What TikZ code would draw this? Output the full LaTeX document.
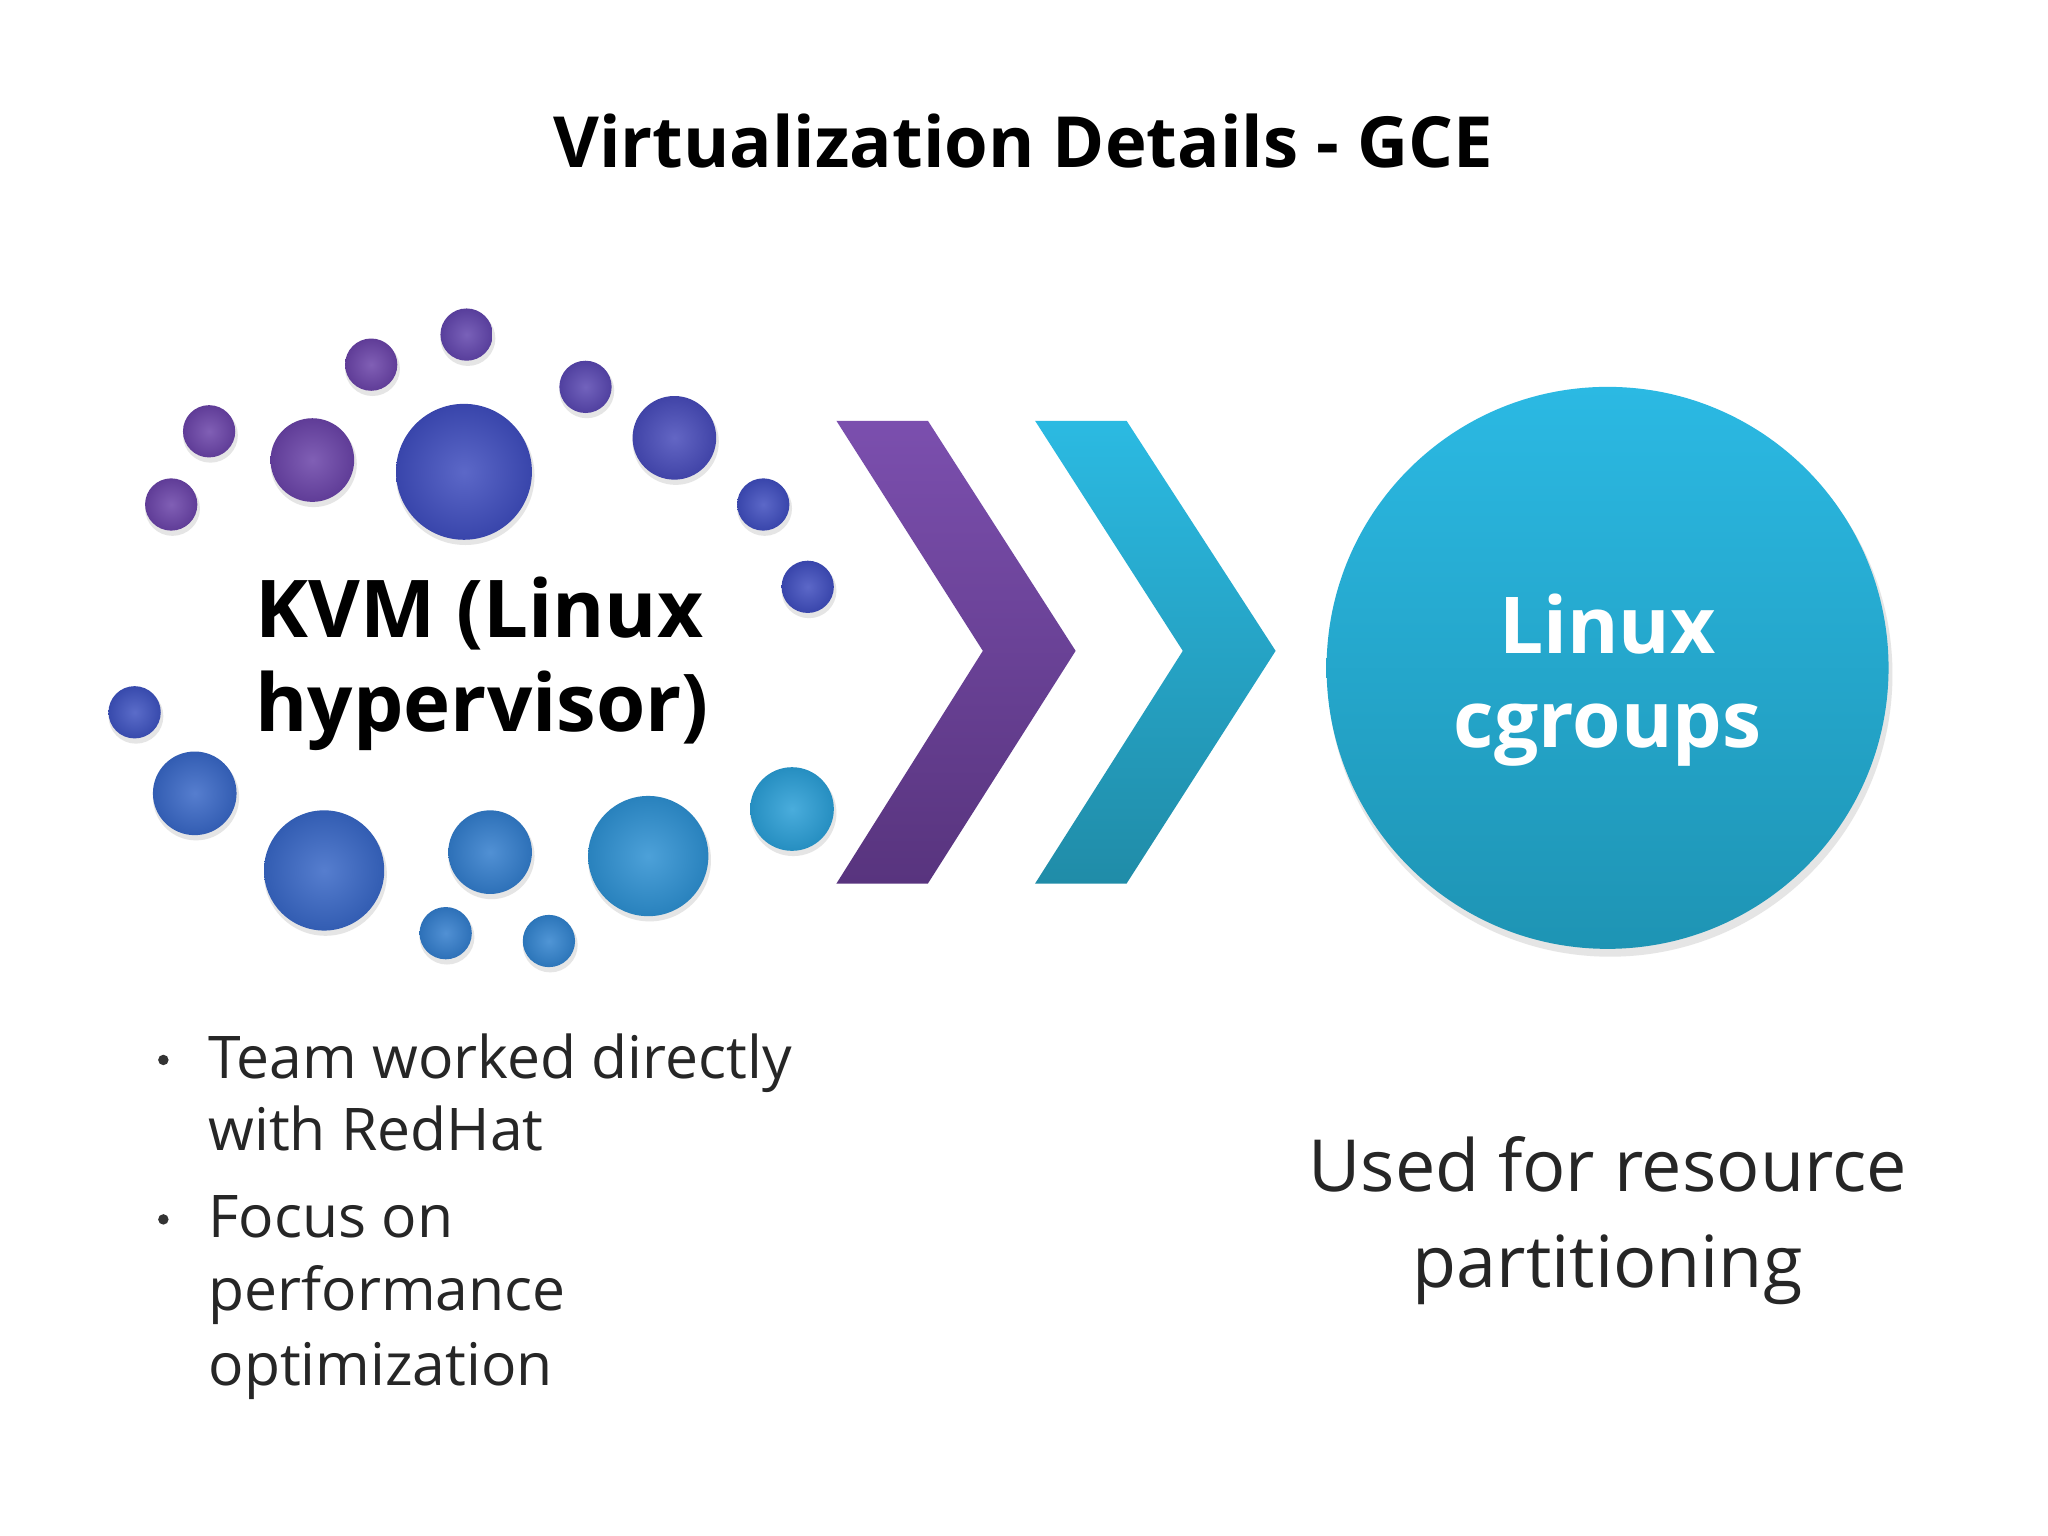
\documentclass[tikz,border=0pt]{standalone}
\usepackage{fontspec}
\setmainfont{Open Sans}
\begin{document}
\begin{tikzpicture}[x=1pt,y=-1pt,
  bul/.style={anchor=base west,font=\fontsize{45}{52}\selectfont,text=black!85},
  kvm/.style={anchor=base west,font=\fontsize{61}{70}\selectfont\bfseries}]
\useasboundingbox (0,0) rectangle (1567,1175);
\fill[white] (0,0) rectangle (1567,1175);
\node[font=\fontsize{54}{62}\selectfont\bfseries] (title) at (783,108) {Virtualization Details - GCE};
% dots
\definecolor{cp}{HTML}{6A43A8}\definecolor{cb}{HTML}{3F4DBE}
\definecolor{cl}{HTML}{3867C6}\definecolor{cc}{HTML}{2A9ED6}
\foreach \x/\y/\r/\c in {357/256/20/cp!80!cb,284/279/20/cp,448/296/20/cp!60!cb,160/330/20/cp,131/386/20/cp,239/352/32/cp,355/361/52/cb,516/335/32/cb!80!cp,584/386/20/cb,618/449/20/cb,103/545/20/cb!80!cl,149/607/32/cl,248/666/46/cl,375/652/32/cl!60!cc,496/655/46/cc!75!cl,606/619/32/cc,341/714/20/cl!60!cc,420/720/20/cl!50!cc}
  {\fill[black!10] (\x+1,\y+3) circle (\r+1);
   \shade[inner color=\c!85!white,outer color=\c!90!black] (\x,\y) circle (\r);}
% chevrons
\shade[top color={rgb,255:red,123;green,79;blue,174},bottom color={rgb,255:red,88;green,52;blue,126}]
  (640,322) -- (710,322) -- (823,498) -- (710,676) -- (640,676) -- (752,498) -- cycle;
\shade[top color={rgb,255:red,43;green,186;blue,226},bottom color={rgb,255:red,32;green,140;blue,168}]
  (792,322) -- (862,322) -- (976,498) -- (862,676) -- (792,676) -- (905,498) -- cycle;
% big circle
\fill[black!10] (1232,516) circle (216);
\shade[top color={rgb,255:red,43;green,185;blue,227},bottom color={rgb,255:red,30;green,148;blue,180}] (1230,511) circle (215);
\node[font=\fontsize{60}{70}\selectfont\bfseries,text=white,anchor=base] (l1) at (1230,500) {Linux};
\node[font=\fontsize{60}{70}\selectfont\bfseries,text=white,anchor=base] (l2) at (1230,572) {cgroups};
\node[kvm] (k1) at (192,488) {KVM (Linux};
\node[kvm] (k2) at (192,560) {hypervisor)};
% bullets
\node[bul] (b1) at (156,825) {Team worked directly};
\node[bul] (b2) at (156,880) {with RedHat};
\node[bul] (b3) at (156,947) {Focus on};
\node[bul] (b4) at (156,1003) {performance};
\node[bul] (b5) at (156,1060) {optimization};
\fill[black!80] (125,811) circle (4);
\fill[black!80] (125,933) circle (4);
\node[font=\fontsize{55}{64}\selectfont,anchor=base,text=black!85] (r1) at (1230,912) {Used for resource};
\node[font=\fontsize{55}{64}\selectfont,anchor=base,text=black!85] (r2) at (1230,985) {partitioning};
\end{tikzpicture}
\end{document}
